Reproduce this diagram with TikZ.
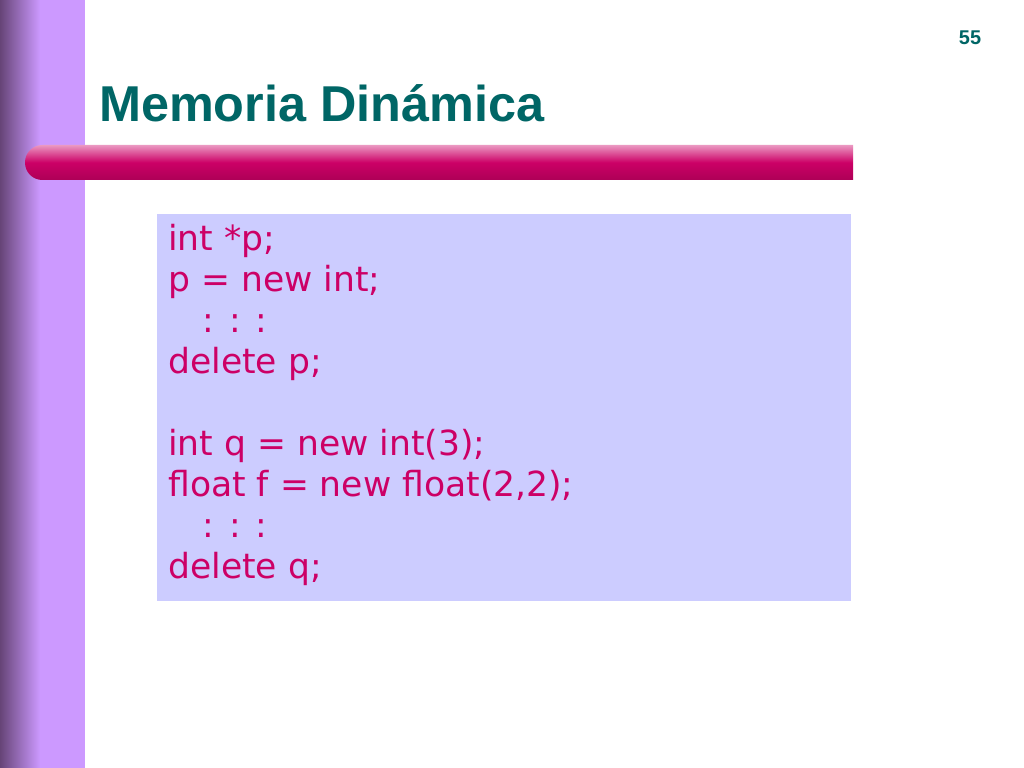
\documentclass[tikz,border=0pt]{standalone}
\usepackage{fontspec}
\setmainfont{DejaVu Sans}
\setsansfont{Liberation Sans}
\usetikzlibrary{positioning}
\definecolor{teal}{HTML}{006666}
\definecolor{codepink}{HTML}{CC0066}
\definecolor{lilac}{HTML}{CC99FF}
\definecolor{boxblue}{HTML}{CCCCFF}
\definecolor{plum}{HTML}{664477}
\tikzset{
  codebox/.style={rectangle, fill=boxblue, minimum width=694*0.03cm, minimum height=387*0.03cm, anchor=north west, inner sep=0pt},
  code/.style={text=codepink, align=left, anchor=north west, font=\fontsize{29.5}{35}\selectfont, inner sep=0pt},
  heading/.style={text=teal, anchor=west, font=\sffamily\bfseries\fontsize{43}{45}\selectfont}
}
\begin{document}
\begin{tikzpicture}[x=0.03cm,y=-0.03cm]
    \useasboundingbox (0,0) rectangle (1024,768);
    \fill[white] (0,0) rectangle (1024,768);
    % side bar
    \fill[lilac] (25,0) rectangle (85,768);
    \shade[left color=plum, right color=lilac] (0,0) rectangle (40,768);
    % pink bar
    \shade[top color=codepink!40, bottom color=codepink!85!black, middle color=codepink]
        (853,145) [rounded corners=0.52cm] -- (25,145) -- (25,180) [sharp corners] -- (853,180) -- cycle;
    % title and page number
    \node (title) [heading] at (95,103) {Memoria Dinámica};
    \node (page) [text=teal, font=\sffamily\bfseries\fontsize{17}{19}\selectfont] at (970,38) {55};
    % code
    \node (box) [codebox] at (157,214) {};
    \node (src) [code] at (168,224) {int *p;\\p = new int;\\\quad : : :\\delete p;\\\mbox{}\\int q = new int(3);\\float f = new float(2,2);\\\quad : : :\\delete q;};
\end{tikzpicture}
\end{document}
